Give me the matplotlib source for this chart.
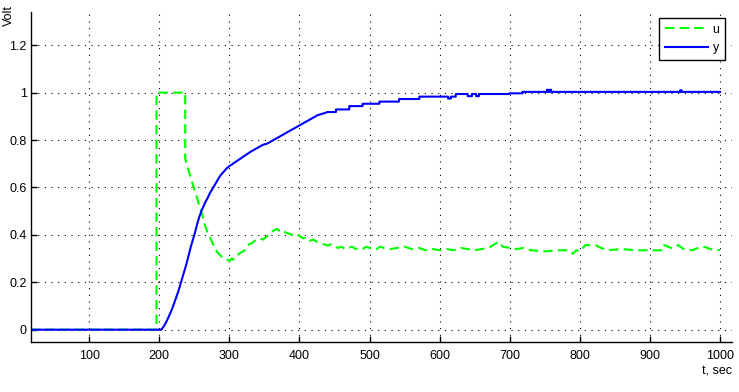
import numpy as np
import matplotlib
matplotlib.use("Agg")
import matplotlib.pyplot as plt

plt.rcParams['font.family'] = ['Liberation Sans', 'DejaVu Sans']

# control signal u
u_t = [17, 196, 196, 237, 237, 240, 243, 246, 249, 252, 255, 258, 261, 264,
       267, 270, 273, 276, 279, 282, 285, 288, 291, 294, 297, 300, 303, 306,
       309, 312, 316, 320, 324, 328, 332, 336, 340, 344, 348, 352, 356, 360,
       364, 368, 372, 376, 380, 385, 390, 395, 400, 405, 410, 415, 420, 425,
       430, 435, 440, 445, 450, 455, 460, 465, 470, 475, 480, 485, 490, 495,
       500, 510, 515, 520, 530, 540, 550, 560, 570, 580, 590, 600, 610, 620,
       630, 640, 650, 660, 670, 678, 684, 690, 700, 710, 720, 730, 750, 770,
       785, 790, 795, 800, 808, 823, 830, 840, 860, 880, 918, 920, 930, 935,
       940, 948, 960, 975, 990, 1000]
u_v = [0.0, 0.0, 1.0, 1.0, 0.72, 0.69, 0.66, 0.63, 0.60, 0.575, 0.545, 0.515,
       0.49, 0.45, 0.425, 0.40, 0.385, 0.365, 0.345, 0.33, 0.32, 0.31, 0.305,
       0.30, 0.295, 0.29, 0.30, 0.295, 0.305, 0.315, 0.325, 0.33, 0.345, 0.36,
       0.365, 0.375, 0.38, 0.385, 0.38, 0.39, 0.40, 0.41, 0.42, 0.425, 0.415,
       0.42, 0.41, 0.405, 0.40, 0.405, 0.395, 0.385, 0.39, 0.375, 0.38, 0.37,
       0.365, 0.36, 0.355, 0.36, 0.35, 0.345, 0.35, 0.34, 0.345, 0.35, 0.34,
       0.345, 0.34, 0.35, 0.345, 0.34, 0.35, 0.345, 0.34, 0.345, 0.35, 0.34,
       0.345, 0.335, 0.34, 0.335, 0.34, 0.335, 0.345, 0.34, 0.335, 0.34,
       0.345, 0.36, 0.37, 0.35, 0.345, 0.34, 0.345, 0.335, 0.33, 0.335, 0.335,
       0.32, 0.335, 0.33, 0.357, 0.355, 0.345, 0.335, 0.34, 0.335, 0.335,
       0.357, 0.345, 0.345, 0.357, 0.34, 0.335, 0.352, 0.336, 0.336]

# plant output y
y_t = [17, 203, 206, 209, 212, 215, 218, 221, 224, 227, 230, 233, 236, 239,
       242, 245, 248, 251, 254, 257, 260, 263, 266, 269, 272, 275, 278, 281,
       284, 287, 290, 293, 296, 300, 305, 310, 315, 320, 325, 330, 336, 342,
       348, 354, 360, 366, 372, 378, 384, 390, 396, 402, 408, 414, 420, 426,
       432, 440, 452, 452, 471, 471, 490, 490, 514, 514, 542, 542, 571, 571,
       612, 612, 616, 616, 623, 623, 640, 640, 646, 646, 652, 652, 656, 656,
       699, 699, 718, 718, 753, 753, 755, 755, 757, 757, 759, 759, 943, 943,
       945, 945, 1000]
y_v = [0.0, 0.0, 0.012, 0.027, 0.045, 0.065, 0.085, 0.11, 0.135, 0.16, 0.19,
       0.22, 0.25, 0.28, 0.315, 0.35, 0.38, 0.41, 0.445, 0.475, 0.50, 0.52,
       0.54, 0.555, 0.575, 0.59, 0.605, 0.62, 0.635, 0.65, 0.66, 0.67, 0.68,
       0.69, 0.70, 0.71, 0.72, 0.73, 0.74, 0.75, 0.76, 0.77, 0.78, 0.785,
       0.795, 0.805, 0.815, 0.825, 0.835, 0.845, 0.855, 0.865, 0.875, 0.885,
       0.895, 0.905, 0.91, 0.918, 0.918, 0.929, 0.929, 0.943, 0.943, 0.953,
       0.953, 0.962, 0.962, 0.973, 0.973, 0.983, 0.983, 0.975, 0.975, 0.983,
       0.983, 0.994, 0.994, 0.985, 0.985, 0.994, 0.994, 0.985, 0.985, 0.994,
       0.994, 0.997, 0.997, 1.003, 1.003, 1.012, 1.012, 1.003, 1.003, 1.012,
       1.012, 1.003, 1.003, 1.01, 1.01, 1.003, 1.003]

xticks = [100, 200, 300, 400, 500, 600, 700, 800, 900, 1000]
yticks = [0, 0.2, 0.4, 0.6, 0.8, 1.0, 1.2]
ytick_labels = ['0', '0.2', '0.4', '0.6', '0.8', '1', '1.2']

fig = plt.figure(figsize=(7.39, 3.92), dpi=100)
ax = fig.add_axes([31 / 739, 1 - 342 / 392, 701 / 739, 330 / 392])

ax.plot(u_t, u_v, color='#00ff00', lw=1.5, dashes=(4.5, 2.5), label='u')
ax.plot(y_t, y_v, color='#0000ff', lw=1.5, label='y')

ax.set_xlim(17, 1017)
ax.set_ylim(-0.052, 1.34)
ax.set_xticks(xticks)
ax.set_yticks(yticks)
ax.set_yticklabels(ytick_labels)
ax.grid(True, color='black', lw=0.8, ls=(0, (1, 5)))
ax.spines['top'].set_visible(False)
ax.spines['right'].set_visible(False)
ax.spines['left'].set_linewidth(1.0)
ax.spines['bottom'].set_linewidth(1.0)
ax.tick_params(direction='in', length=4, width=1.0, labelsize=9)
ax.tick_params(axis='x', pad=6)
ax.tick_params(axis='y', pad=3)

fig.text(8.5 / 739, 1 - 16 / 392, 'Volt', rotation=90, ha='center',
         va='center', fontsize=9)
fig.text(732 / 739, 1 - 372 / 392, 't, sec', ha='right', va='center',
         fontsize=9)

leg = ax.legend(loc='upper right', bbox_to_anchor=(725 / 739, 1 - 18 / 392),
                bbox_transform=fig.transFigure, borderaxespad=0, fontsize=9,
                fancybox=False, handlelength=3.4, handletextpad=0.4,
                labelspacing=0.5, borderpad=0.45)
leg.get_frame().set_edgecolor('black')
leg.get_frame().set_linewidth(1.0)
leg.get_frame().set_alpha(1)

fig.savefig('out.png', dpi=100)
